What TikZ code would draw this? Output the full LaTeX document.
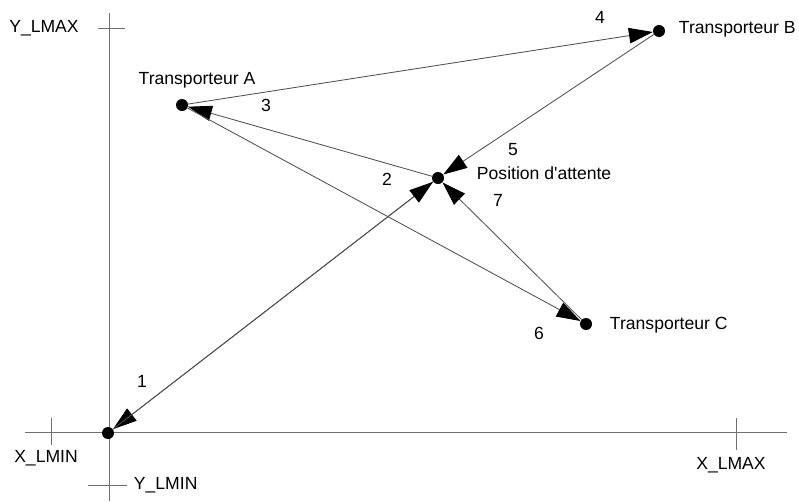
\documentclass[tikz,border=0pt]{standalone}
\usepackage{fontspec}
\setmainfont{Liberation Sans}
\usetikzlibrary{arrows.meta}
\definecolor{axisgrey}{HTML}{707070}
\definecolor{pathgrey}{HTML}{505050}

\begin{document}
\begin{tikzpicture}[x=0.025cm,y=-0.025cm,font=\fontsize{12.5}{14}\selectfont,
  spot/.style={circle,fill=black,inner sep=0pt,minimum size=0.3cm},
  move/.style={pathgrey,line width=0.6pt,-{Triangle[length=17pt,width=11pt,color=black]}},
  axis/.style={axisgrey,line width=0.6pt}]
  \useasboundingbox (0,0) rectangle (799,501);
  % axes and limit ticks
  \draw[axis] (109,13) -- (109,501);
  \draw[axis] (25,432) -- (787,432);
  \draw[axis] (98,28) -- (125,28);
  \draw[axis] (51,418) -- (51,445);
  \draw[axis] (88,485) -- (127,485);
  \draw[axis] (736,418) -- (736,450);
  \node (ymax) at (44,28) {Y\_LMAX};
  \node (xmin) at (46,458) {X\_LMIN};
  \node[anchor=west] (ymin) at (129,485) {Y\_LMIN};
  \node (xmax) at (731,465) {X\_LMAX};
  % positions
  \node[spot] (orig) at (108,433) {};
  \node[spot] (tA) at (182,105) {};
  \node[spot] (tB) at (659,31) {};
  \node[spot] (tC) at (586,324) {};
  \node[spot] (wait) at (438,178) {};
  \node (labA) at (197,80) {Transporteur A};
  \node[anchor=west] (labB) at (674,29) {Transporteur B};
  \node[anchor=west] (labC) at (605,325) {Transporteur C};
  \node[anchor=west] (labW) at (472,173) {Position d\textquotesingle attente};
  % moves
  \draw[move] (wait) -- (orig);
  \draw[move] (orig) -- (wait);
  \draw[move] (wait) -- (tA);
  \draw[move] (tA) -- (tB);
  \draw[move] (tB) -- (wait);
  \draw[move] (tA) -- (tC);
  \draw[move] (tC) -- (wait);
  \foreach \n/\x/\y in {1/142/381, 2/387/179, 3/266/105, 4/600/17, 5/513/150, 6/539/333, 7/498/200}{
    \node (num\n) at (\x,\y) {\n};
  }
\end{tikzpicture}
\end{document}
